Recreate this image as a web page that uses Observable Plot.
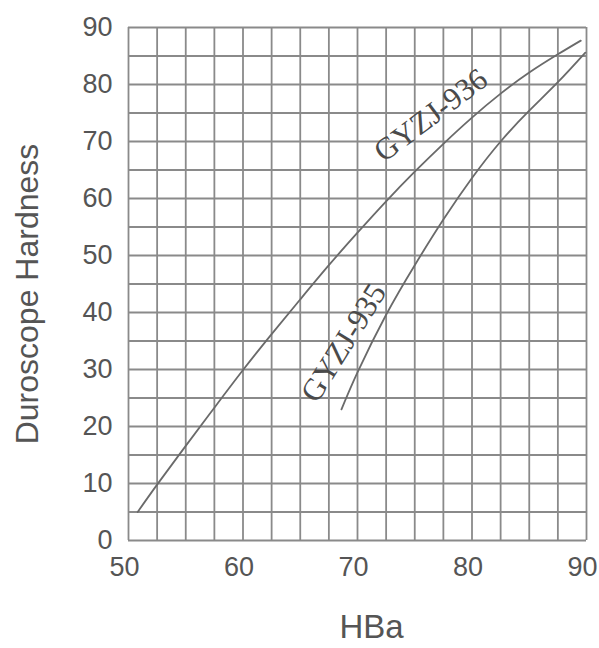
<!DOCTYPE html>
<html>
<head>
<meta charset="utf-8">
<script src="https://cdn.jsdelivr.net/npm/d3@7"></script>
<script src="https://cdn.jsdelivr.net/npm/@observablehq/plot@0.6"></script>
<style>
  html, body { margin: 0; padding: 0; background: #fff; }
</style>
</head>
<body>
<div id="chart"></div>
<script>
// Data
const hba936 = [50.8, 52.5, 55, 57.5, 60, 62.5, 65, 67.5, 70, 72.5, 75, 77.5, 80, 82.5, 85, 87.5, 89.5];
const hard936 = [5, 9.8, 16.6, 23.3, 29.9, 36.2, 42.3, 48.3, 54.0, 59.5, 64.7, 69.6, 74.2, 78.4, 82.1, 85.3, 87.7];
const hba935 = [68.6, 70, 72.5, 75, 77.5, 80, 82.5, 85, 87.5, 89.9];
const hard935 = [23, 29.5, 39.6, 48.3, 56.3, 63.6, 70.0, 75.4, 80.4, 85.6];
const seriesNames = ["GYZJ-936", "GYZJ-935"];
const labelX = [76.4, 68.8];
const labelY = [74.6, 34.7];
const labelAngle = [-37, -58];
const xTicks = [50, 60, 70, 80, 90];
const yTicks = [0, 10, 20, 30, 40, 50, 60, 70, 80, 90];
const xGrid = d3.range(50, 90.01, 2.5);
const yGrid = d3.range(0, 90.01, 5);

const rows = [
  ...hba936.map((x, i) => ({series: seriesNames[0], x, y: hard936[i]})),
  ...hba935.map((x, i) => ({series: seriesNames[1], x, y: hard935[i]}))
];
const labels = seriesNames.map((s, i) => ({s, x: labelX[i], y: labelY[i], a: labelAngle[i]}));

const gridColor = "#8a8a8a";
const inkColor = "#555";

const chart = Plot.plot({
  width: 599,
  height: 648,
  marginLeft: 128,
  marginRight: 13,
  marginTop: 27,
  marginBottom: 108,
  style: {fontFamily: "'Liberation Sans', Arial, sans-serif", color: inkColor, background: "#fff"},
  x: {domain: [50, 90]},
  y: {domain: [0, 90]},
  marks: [
    Plot.ruleX(xGrid, {stroke: gridColor, strokeWidth: 1.8, strokeOpacity: 1}),
    Plot.ruleY(yGrid, {stroke: gridColor, strokeWidth: 1.8, strokeOpacity: 1}),
    Plot.line(rows, {x: "x", y: "y", z: "series", curve: "natural", stroke: "#6a6a6a", strokeWidth: 1.8}),
    ...labels.map(l => Plot.text([l], {x: "x", y: "y", text: "s", rotate: l.a, fontSize: 31, fill: "#4a4a4a",
      fontFamily: "'Liberation Serif', 'DejaVu Serif', serif"})),
    Plot.axisX({ticks: xTicks, tickSize: 0, tickPadding: 16, dx: -4, fontSize: 27, label: null, tickFormat: d => String(d), fill: inkColor}),
    Plot.axisY({ticks: yTicks, tickSize: 0, tickPadding: 16, fontSize: 27, label: null, tickFormat: d => String(d), fill: inkColor}),
    Plot.text(["HBa"], {frameAnchor: "bottom", textAnchor: "middle", lineAnchor: "middle", dx: 14, dy: 87, fontSize: 33, fill: inkColor}),
    Plot.text(["Duroscope Hardness"], {frameAnchor: "left", textAnchor: "middle", lineAnchor: "middle", dx: -101, dy: 10, rotate: -90, fontSize: 32, fill: inkColor})
  ]
});
document.getElementById("chart").appendChild(chart);
</script>
</body>
</html>
